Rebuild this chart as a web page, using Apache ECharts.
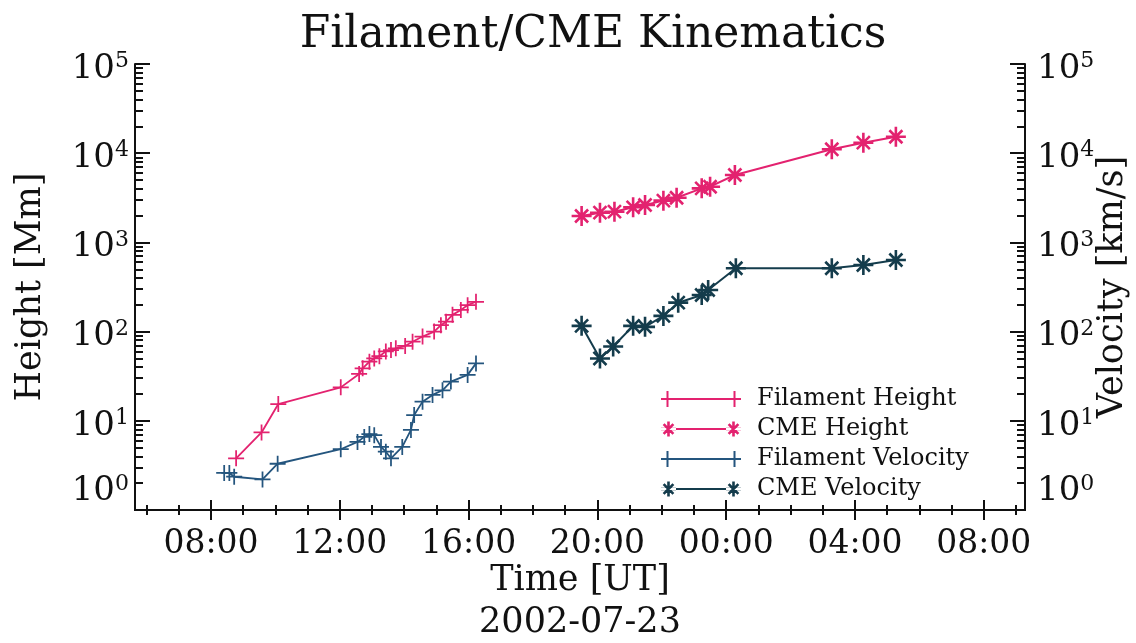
<!DOCTYPE html>
<html><head><meta charset="utf-8">
<script src="https://cdn.jsdelivr.net/npm/echarts@6/dist/echarts.min.js"></script>
<style>html,body{margin:0;padding:0;background:#fff}#c{width:1136px;height:643px}</style>
</head><body><div id="c"></div>
<script>
// Time in hours since 2002-07-23 00:00 UT
const filHeightT = [8.78, 9.57, 10.09, 12.03, 12.60, 12.71, 12.92, 13.07, 13.23, 13.43, 13.59, 13.74, 14.03, 14.26, 14.57, 14.93, 15.14, 15.30, 15.50, 15.76, 15.97, 16.23];
const filHeight  = [3.8, 7.4, 15.4, 23.7, 33.5, 38.8, 46, 50, 53, 60, 62, 65, 69, 77, 88, 100, 118, 129, 154, 175, 198, 216];
const cmeHeightT = [19.51, 20.08, 20.53, 21.11, 21.48, 22.05, 22.46, 23.24, 23.50, 24.27, 27.28, 28.26, 29.27];
const cmeHeight  = [1977, 2153, 2209, 2474, 2625, 2938, 3165, 4036, 4210, 5700, 11060, 13120, 15300];
const filVelT = [8.41, 8.57, 8.72, 9.60, 10.07, 12.03, 12.55, 12.76, 12.92, 13.07, 13.28, 13.43, 13.59, 13.94, 14.21, 14.31, 14.57, 14.88, 15.19, 15.45, 15.97, 16.23];
const filVel  = [2.6, 2.6, 2.36, 2.2, 3.3, 4.8, 5.8, 6.6, 7.1, 6.9, 5.1, 4.5, 3.8, 5.1, 7.9, 11.6, 16.4, 19.5, 22, 27.5, 32.7, 44];
const cmeVelT = [19.51, 20.08, 20.49, 21.11, 21.48, 22.05, 22.51, 23.24, 23.44, 24.30, 27.28, 28.26, 29.27];
const cmeVel  = [116, 50, 68, 116, 113, 150, 211, 257, 293, 513, 513, 558, 635];

const seriesNames = ['Filament Height', 'CME Height', 'Filament Velocity', 'CME Velocity'];
const xTickHours  = [8, 12, 16, 20, 24, 28, 32];
const xTickLabels = ['08:00', '12:00', '16:00', '20:00', '00:00', '04:00', '08:00'];
const xMinorHours = [6,7,8,9,10,11,12,13,14,15,16,17,18,19,20,21,22,23,24,25,26,27,28,29,30,31,32,33];
const yMajor = [1, 10, 100, 1000, 10000, 100000];
const yMinor = [2,3,4,5,6,7,8,9,20,30,40,50,60,70,80,90,200,300,400,500,600,700,800,900,2000,3000,4000,5000,6000,7000,8000,9000,20000,30000,40000,50000,60000,70000,80000,90000];

const X_MIN = 5.64, X_MAX = 33.28;
const PINK = '#e3226f', BLUE = '#24557e', DARK = '#143c4c';
const FONT = 'DejaVu Serif';

function plusPath(cx, cy, hw, hh, t) {
  return `M${cx-hw},${cy-t/2} L${cx+hw},${cy-t/2} L${cx+hw},${cy+t/2} L${cx-hw},${cy+t/2} Z ` +
         `M${cx-t/2},${cy-hh} L${cx+t/2},${cy-hh} L${cx+t/2},${cy+hh} L${cx-t/2},${cy+hh} Z `;
}
function armPath(cx, cy, r, ang, t) {
  const c = Math.cos(ang), s = Math.sin(ang), px = -s * t / 2, py = c * t / 2;
  const x1 = cx - c*r, y1 = cy - s*r, x2 = cx + c*r, y2 = cy + s*r;
  return `M${x1+px},${y1+py} L${x2+px},${y2+py} L${x2-px},${y2-py} L${x1-px},${y1-py} Z `;
}
function starAt(cx, cy, r, t) {
  return armPath(cx,cy,r,0,t) + armPath(cx,cy,r,Math.PI/2,t) + armPath(cx,cy,r*0.92,Math.PI/4,t) + armPath(cx,cy,r*0.92,3*Math.PI/4,t);
}
const PLUS = 'path://' + plusPath(10, 10, 10, 10, 2.2);
const STAR = 'path://' + starAt(10, 10, 10, 2.6);
const LEG_PLUS = 'path://M0,7 L80,7 L80,9 L0,9 Z ' + plusPath(6.5, 8, 6.5, 8, 2) + plusPath(73.5, 8, 6.5, 8, 2);
const LEG_STAR = 'path://M0,7 L80,7 L80,9 L0,9 Z ' + starAt(7.5, 8, 7.5, 2.6) + starAt(72.5, 8, 7.5, 2.6);

const zip = (a, b) => a.map((v, i) => [v, b[i]]);
const labelFmt = v => '{b|10}{s|' + Math.round(Math.log10(v)) + '}';
const richLab = { b: { fontFamily: FONT, fontSize: 34, color: '#111' }, s: { fontFamily: FONT, fontSize: 22, color: '#111', verticalAlign: 'top', padding: [0, 0, 15, 0] } };
const axLine = { show: true, lineStyle: { color: '#111', width: 2 } };

function xAx(pos, major, withLabels) {
  return {
    type: 'value', position: pos, min: X_MIN, max: X_MAX, gridIndex: 0,
    axisLine: axLine, splitLine: { show: false },
    axisTick: { show: true, inside: true, length: major ? 10 : 5, lineStyle: { color: '#111', width: 2 },
                customValues: major ? xTickHours : xMinorHours },
    axisLabel: withLabels ? { show: true, customValues: xTickHours, margin: 18,
      formatter: v => xTickLabels[xTickHours.indexOf(Math.round(v))] || '',
      fontFamily: FONT, fontSize: 33, color: '#111' } : { show: false },
    name: withLabels ? 'Time [UT]\n2002-07-23' : '', nameLocation: 'middle', nameGap: 50, nameMoveOverlap: false,
    nameTextStyle: { fontFamily: FONT, fontSize: 35, color: '#111', lineHeight: 42, verticalAlign: 'top' }
  };
}
// label axes (log scale, carry the data)
function yLab(pos, name, nameGap) {
  return {
    type: 'log', logBase: 10, position: pos, min: 1, max: 100000, gridIndex: 0,
    axisLine: axLine, splitLine: { show: false }, axisTick: { show: false },
    axisLabel: { show: true, customValues: yMajor, formatter: labelFmt, rich: richLab,
      margin: pos === 'left' ? 6 : 12, padding: [10, 0, 0, 0], verticalAlignMinLabel: 'bottom' },
    name: name, nameLocation: 'middle', nameGap: nameGap, nameRotate: 90, nameMoveOverlap: false,
    nameTextStyle: { fontFamily: FONT, fontSize: 35, color: '#111' }
  };
}
// tick axes: decade exponent space (log10 of the tick values)
function yTick(pos, major) {
  return {
    type: 'value', position: pos, min: 0, max: 5, gridIndex: 0,
    axisLine: { show: false }, splitLine: { show: false }, axisLabel: { show: false },
    axisTick: { show: true, inside: true, length: major ? 15 : 8, lineStyle: { color: '#111', width: 2 },
                customValues: (major ? yMajor : yMinor).map(v => Math.log10(v)) }
  };
}

const chart = echarts.init(document.getElementById('c'), null, { renderer: 'canvas' });
chart.setOption({
  backgroundColor: '#fff',
  animation: false,
  title: { text: 'Filament/CME Kinematics', left: 588, top: 9, textAlign: 'center',
           textStyle: { fontFamily: FONT, fontSize: 44, fontWeight: 'normal', color: '#111' } },
  grid: { left: 135, right: 111, top: 64, bottom: 133, containLabel: false, outerBoundsMode: 'none' },
  xAxis: [xAx('bottom', true, true), xAx('bottom', false, false), xAx('top', true, false), xAx('top', false, false)],
  yAxis: [yLab('left', 'Height [Mm]', 87), yTick('left', true), yTick('left', false),
          yLab('right', 'Velocity [km/s]', 70), yTick('right', true), yTick('right', false)],
  legend: {
    orient: 'vertical', left: 656, top: 382, itemWidth: 80, itemHeight: 16, itemGap: 6,
    textStyle: { fontFamily: FONT, fontSize: 24, color: '#111', padding: [0, 0, 0, 11] },
    data: [
      { name: seriesNames[0], icon: LEG_PLUS },
      { name: seriesNames[1], icon: LEG_STAR },
      { name: seriesNames[2], icon: LEG_PLUS },
      { name: seriesNames[3], icon: LEG_STAR }
    ]
  },
  series: [
    { name: seriesNames[0], type: 'line', xAxisIndex: 0, yAxisIndex: 0, data: zip(filHeightT, filHeight),
      symbol: PLUS, symbolSize: 16, itemStyle: { color: PINK, borderWidth: 0 }, lineStyle: { color: PINK, width: 1.8 } },
    { name: seriesNames[1], type: 'line', xAxisIndex: 0, yAxisIndex: 0, data: zip(cmeHeightT, cmeHeight),
      symbol: STAR, symbolSize: 20, itemStyle: { color: PINK, borderWidth: 0 }, lineStyle: { color: PINK, width: 2 } },
    { name: seriesNames[2], type: 'line', xAxisIndex: 0, yAxisIndex: 3, data: zip(filVelT, filVel),
      symbol: PLUS, symbolSize: 16, itemStyle: { color: BLUE, borderWidth: 0 }, lineStyle: { color: BLUE, width: 1.8 } },
    { name: seriesNames[3], type: 'line', xAxisIndex: 0, yAxisIndex: 3, data: zip(cmeVelT, cmeVel),
      symbol: STAR, symbolSize: 20, itemStyle: { color: DARK, borderWidth: 0 }, lineStyle: { color: DARK, width: 2 } }
  ]
});
</script></body></html>
